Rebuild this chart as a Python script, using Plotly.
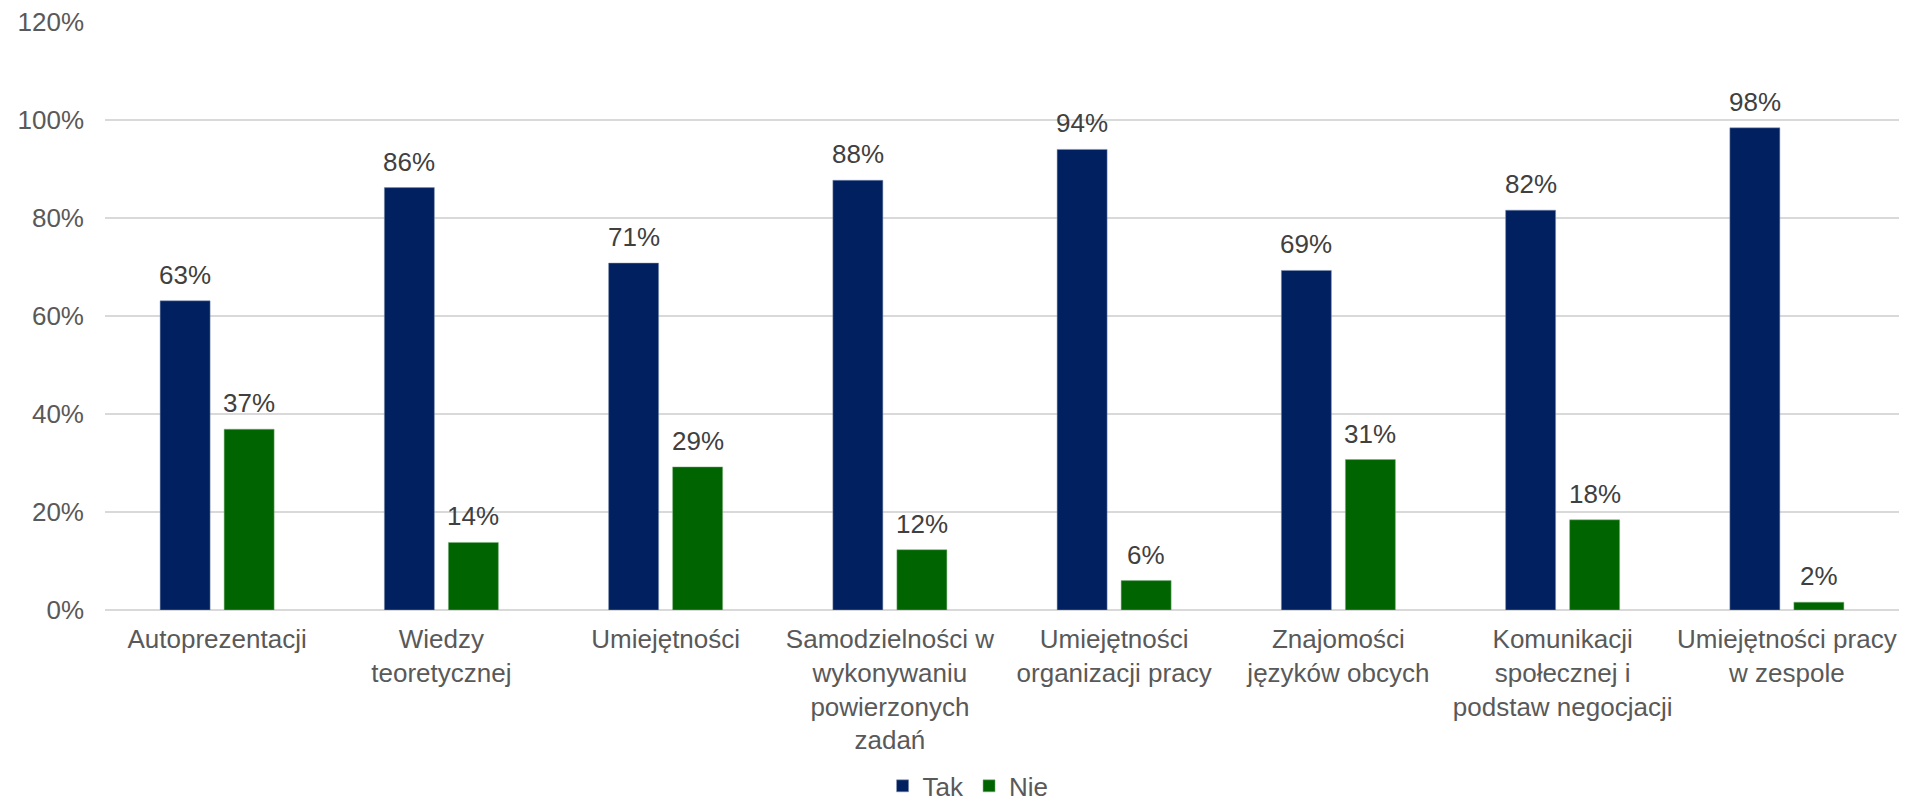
import plotly.graph_objects as go

categories = [
    "Autoprezentacji",
    "Wiedzy<br>teoretycznej",
    "Umiejętności",
    "Samodzielności w<br>wykonywaniu<br>powierzonych<br>zadań",
    "Umiejętności<br>organizacji pracy",
    "Znajomości<br>języków obcych",
    "Komunikacji<br>społecznej i<br>podstaw negocjacji",
    "Umiejętności pracy<br>w zespole",
]
tak = [63.1, 86.2, 70.8, 87.7, 94.0, 69.3, 81.6, 98.4]
nie = [36.9, 13.8, 29.2, 12.3, 6.0, 30.7, 18.4, 1.6]
y_ticks = [0, 20, 40, 60, 80, 100, 120]
y_tick_labels = [f"{v}%" for v in y_ticks]

FONT = "Liberation Sans, Arial, sans-serif"
LABEL_COLOR = "#404040"

fig = go.Figure()
fig.add_trace(go.Bar(
    name="Tak", x=categories, y=tak,
    marker=dict(color="#002060", line=dict(color="#8090b0", width=0.5)),
))
fig.add_trace(go.Bar(
    name="Nie", x=categories, y=nie,
    marker=dict(color="#006400", line=dict(color="#80b080", width=0.5)),
))

# value labels above bars (offset to each bar's slot in the group)
annotations = []
for series, shift in ((tak, -32), (nie, 32)):
    for cat, v in zip(categories, series):
        annotations.append(dict(
            x=cat, y=v, xref="x", yref="y", text=f"{round(v)}%",
            showarrow=False, xshift=shift, yshift=26, yanchor="middle",
            font=dict(size=26, color=LABEL_COLOR, family=FONT),
        ))

fig.update_layout(
    width=1917, height=802,
    barmode="group", bargap=0.429, bargroupgap=0.219,
    plot_bgcolor="white", paper_bgcolor="white",
    margin=dict(l=105, r=18, t=22, b=192, autoexpand=False),
    font=dict(family=FONT, size=26, color="#595959"),
    xaxis=dict(showgrid=False, showline=False, ticks="", ticklabelstandoff=11,
               automargin=False, tickfont=dict(size=26, color="#595959")),
    yaxis=dict(range=[0, 120], tickvals=y_ticks, ticktext=y_tick_labels,
               showgrid=True, gridcolor="#d9d9d9", gridwidth=1.5,
               zeroline=True, zerolinecolor="#d9d9d9", zerolinewidth=1.5,
               showline=False, ticks="", ticklen=0, ticklabelstandoff=20,
               automargin=False, tickfont=dict(size=26, color="#595959")),
    legend=dict(orientation="h", xref="container", yref="container",
                x=0.505, xanchor="center", y=0.02, yanchor="middle",
                font=dict(size=26, color="#595959"), itemwidth=30, tracegroupgap=0),
    annotations=annotations,
    showlegend=True,
)

fig.write_html("out.html", config={"displayModeBar": False},
               post_script="document.body.style.margin='0';document.body.style.overflow='hidden';")
